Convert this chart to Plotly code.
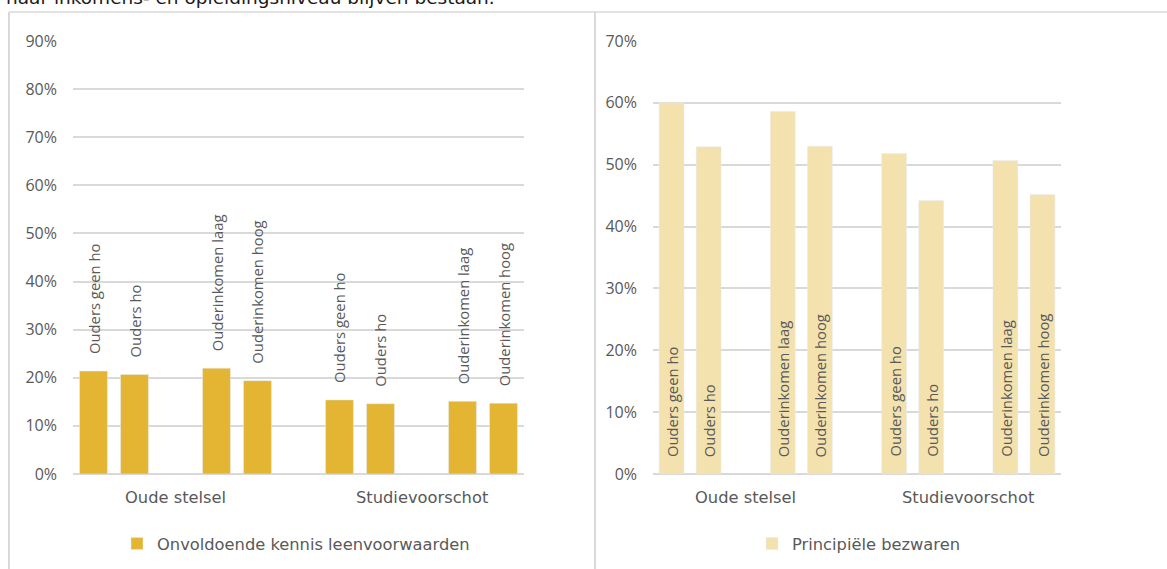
import plotly.graph_objects as go

# ---- data ----
systems = ["Oude stelsel", "Studievoorschot"]
subgroups = ["Ouders geen ho", "Ouders ho", "Ouderinkomen laag", "Ouderinkomen hoog"]
kennis = {  # Onvoldoende kennis leenvoorwaarden (%)
    "Oude stelsel": [21.4, 20.7, 22.0, 19.4],
    "Studievoorschot": [15.4, 14.6, 15.1, 14.7],
}
bezwaren = {  # Principiële bezwaren (%)
    "Oude stelsel": [60.0, 52.9, 58.6, 53.0],
    "Studievoorschot": [51.8, 44.2, 50.7, 45.2],
}
left_name = "Onvoldoende kennis leenvoorwaarden"
right_name = "Principiële bezwaren"
left_ticks = [0, 10, 20, 30, 40, 50, 60, 70, 80, 90]
right_ticks = [0, 10, 20, 30, 40, 50, 60, 70]
title_text = "naar inkomens- en opleidingsniveau blijven bestaan."

# ---- geometry helpers ----
W, H = 1167, 569
def px(x):
    return x / W
def py(y):
    return 1 - y / H

# slot index on a numeric axis: two pairs per system, blank slot between pairs and systems
xs, lab, vl, vr = [], [], [], []
for g, s in enumerate(systems):
    for j, sub in enumerate(subgroups):
        xs.append(g * 6 + j + (1 if j >= 2 else 0))
        lab.append(sub)
        vl.append(kennis[s][j])
        vr.append(bezwaren[s][j])
group_centers = [g * 6 + 2 for g in range(len(systems))]

GRAY = "#595959"
GRID = "#D9D9D9"
FONT = "Open Sans"
LFONT = "DejaVu Sans"

fig = go.Figure()
fig.add_bar(x=xs, y=vl, name=left_name, marker_color="#E3B533", width=0.68,
            xaxis="x", yaxis="y", legend="legend", hoverinfo="skip")
fig.add_bar(x=xs, y=vr, name=right_name, marker_color="#F3E1AE", width=0.67,
            xaxis="x2", yaxis="y2", legend="legend2", hoverinfo="skip")

ydom = [py(474), py(41)]
axx = dict(range=[-0.5, 10.5], showticklabels=False, showgrid=False,
           zeroline=False, showline=False, ticks="", fixedrange=True)
axy = dict(gridcolor=GRID, gridwidth=1.5, zeroline=True, tickmode="array",
           zerolinecolor=GRID, zerolinewidth=1.5, showline=False, automargin=False,
           fixedrange=True,
           tickfont=dict(family=FONT, size=16, color=GRAY), ticklabelstandoff=15)

annotations = []
for x, t, v in zip(xs, lab, vl):
    annotations.append(dict(x=x, y=v, xref="x", yref="y", text=t, textangle=-90,
                            showarrow=False, yanchor="bottom", xanchor="center",
                            yshift=15, font=dict(family=FONT, size=14.8, color=GRAY)))
for x, t in zip(xs, lab):
    annotations.append(dict(x=x, y=0, xref="x2", yref="y2", text=t, textangle=-90,
                            showarrow=False, yanchor="bottom", xanchor="center",
                            yshift=15, font=dict(family=FONT, size=14.8, color=GRAY)))
for xr in ["x", "x2"]:
    for c, s in zip(group_centers, systems):
        annotations.append(dict(x=c, y=py(497), xref=xr, yref="paper", text=s,
                                showarrow=False, xanchor="center", yanchor="middle",
                                font=dict(family=LFONT, size=16.3, color=GRAY)))
annotations.append(dict(x=px(4), y=py(10), xref="paper", yref="paper", text=title_text,
                        showarrow=False, xanchor="left", yanchor="bottom",
                        font=dict(family=LFONT, size=18.5, color="#1a1a1a")))

shapes = [
    dict(type="line", xref="paper", yref="paper", x0=px(9), x1=1, y0=py(12), y1=py(12),
         line=dict(color=GRID, width=1.5)),
    dict(type="line", xref="paper", yref="paper", x0=px(9), x1=px(9), y0=py(12), y1=0,
         line=dict(color=GRID, width=2)),
    dict(type="line", xref="paper", yref="paper", x0=px(595), x1=px(595), y0=py(12), y1=0,
         line=dict(color=GRID, width=2)),
]

fig.update_layout(
    width=W, height=H, margin=dict(l=0, r=0, t=0, b=0, autoexpand=False),
    paper_bgcolor="white", plot_bgcolor="white", showlegend=True,
    xaxis=dict(domain=[px(73), px(524)], anchor="y", **axx),
    yaxis=dict(domain=ydom, anchor="x", range=[0, 90], tickvals=left_ticks,
               ticktext=[f"{v}%" for v in left_ticks], **axy),
    xaxis2=dict(domain=[px(653), px(1061)], anchor="y2", **axx),
    yaxis2=dict(domain=ydom, anchor="x2", range=[0, 70], tickvals=right_ticks,
                ticktext=[f"{v}%" for v in right_ticks], **axy),
    legend=dict(x=px(117), xanchor="left", y=py(544), yanchor="middle",
                orientation="h", font=dict(family=LFONT, size=16.3, color=GRAY),
                bgcolor="rgba(0,0,0,0)"),
    legend2=dict(x=px(752), xanchor="left", y=py(544), yanchor="middle",
                 orientation="h", font=dict(family=LFONT, size=16.3, color=GRAY),
                 bgcolor="rgba(0,0,0,0)"),
    annotations=annotations, shapes=shapes,
)
fig.write_html("out.html", config={"displayModeBar": False},
               post_script="document.body.style.margin='0px';")
